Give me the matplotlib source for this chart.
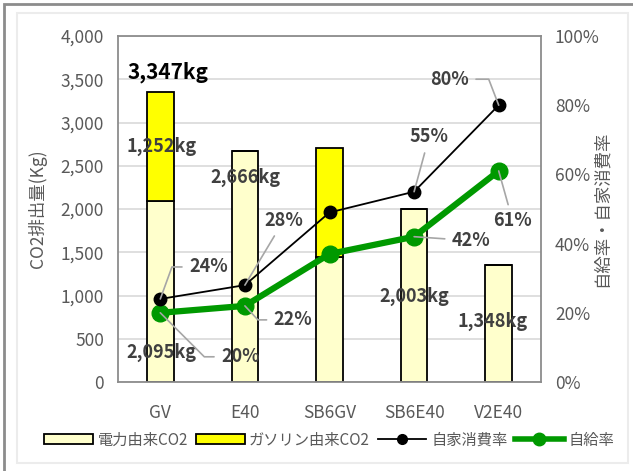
import matplotlib.pyplot as plt
from matplotlib.patches import Rectangle
from matplotlib.lines import Line2D

plt.rcParams['font.family'] = ['Noto Sans CJK JP', 'DejaVu Sans']

# data
categories = ['GV', 'E40', 'SB6GV', 'SB6E40', 'V2E40']
co2_power = [2095, 2666, 1450, 2003, 1348]      # 電力由来CO2 (kg)
co2_gasoline = [1252, 0, 1250, 0, 0]           # ガソリン由来CO2 (kg)
self_consumption = [24, 28, 49, 55, 80]        # 自家消費率 (%)
self_sufficiency = [20, 22, 37, 42, 61]        # 自給率 (%)

fig = plt.figure(figsize=(6.33, 4.71), dpi=100)
fig.patch.set_facecolor('white')
ax = fig.add_axes([118 / 633, 1 - 382 / 471, 423 / 633, 346 / 471])

# outer frame + inner chart area border
fig.add_artist(Rectangle((4 / 633, -0.1), 1.2, 1.1 - 4 / 471, transform=fig.transFigure,
                         fill=False, edgecolor='#8c8c8c', linewidth=2))
fig.add_artist(Rectangle((17 / 633, 8 / 471), 611 / 633, 450 / 471, transform=fig.transFigure,
                         fill=False, edgecolor='#ececec', linewidth=1.5))

x = range(len(categories))
bw = 0.315
ax.bar(x, co2_power, bw, color='#ffffcc', edgecolor='black', linewidth=1.3, zorder=2)
ax.bar(x, co2_gasoline, bw, bottom=co2_power, color='#ffff00', edgecolor='black',
       linewidth=1.3, zorder=2)

ax.set_xlim(-0.5, len(categories) - 0.5)
ax.set_ylim(0, 4000)
ax.set_yticks(range(0, 4001, 500))
ax.set_yticklabels([f'{v:,}' for v in range(0, 4001, 500)])
ax.set_xticks(list(x))
ax.set_xticklabels(categories)
ax.grid(axis='y', color='#d9d9d9', linewidth=1.2, zorder=0)
ax.set_axisbelow(True)
for s in ax.spines.values():
    s.set_edgecolor('#8c8c8c')
    s.set_linewidth(1.3)
ax.tick_params(length=0, labelsize=12.5, colors='#595959', pad=10)
ax.tick_params(axis='x', pad=16)
ax.set_ylabel('CO2排出量(Kg)', fontsize=12.5, color='#595959', labelpad=10)

ax2 = ax.twinx()
ax2.set_ylim(0, 100)
ax2.set_yticks(range(0, 101, 20))
ax2.set_yticklabels([f'{v}%' for v in range(0, 101, 20)])
ax2.tick_params(length=0, labelsize=12.5, colors='#595959', pad=10)
for s in ax2.spines.values():
    s.set_visible(False)
ax2.set_ylabel('自給率・自家消費率', fontsize=12.5, color='#595959', rotation=90,
               labelpad=10, va='bottom')
ax2.yaxis.set_label_coords(1.165, 0.5)

ax2.plot(x, self_consumption, color='black', linewidth=1.3, marker='o', markersize=9, zorder=4)
ax2.plot(x, self_sufficiency, color='#009900', linewidth=4.5, marker='o', markersize=12, zorder=3)

# kg labels (text position offsets in pixels)
totals = [p + g for p, g in zip(co2_power, co2_gasoline)]
ax.annotate(f'{totals[0]:,}kg', (0, totals[0]), xytext=(8, 20), textcoords='offset pixels',
            ha='center', va='center', fontsize=15, fontweight='bold', color='black')
ax.annotate(f'{co2_gasoline[0]:,}kg', (0, co2_power[0] + co2_gasoline[0] / 2), xytext=(1, 0),
            textcoords='offset pixels', ha='center', va='center', fontsize=13,
            fontweight='bold', color='#404040')
kg_offsets = {0: (1, -152), 1: (0, -26), 3: (0, -88), 4: (-6, -56)}
for i, (dx, dy) in kg_offsets.items():
    ax.annotate(f'{co2_power[i]:,}kg', (i, co2_power[i]), xytext=(dx, dy),
                textcoords='offset pixels', ha='center', va='center', fontsize=13,
                fontweight='bold', color='#404040')

# percent labels with leader lines: (dx, dy, attach side, slope at point or None)
sc_labels = {0: (48, 32, 0, 70), 1: (39, 65, 0.3, None), 3: (15, 55, 0.5, None),
             4: (-49, 26, 1, 111)}
ss_labels = {0: (80, -44, 0, -45), 1: (48, -14, 0, -47), 3: (57, -4, 0, None),
             4: (14, -50, 0.5, None)}
for series, labels in ((self_consumption, sc_labels), (self_sufficiency, ss_labels)):
    for i, (dx, dy, side, slope) in labels.items():
        lead = dict(arrowstyle='-', color='#a6a6a6', linewidth=1.2, shrinkA=3, shrinkB=0)
        if slope is not None:
            lead['relpos'] = (side, 0.5)
            lead['connectionstyle'] = f'angle,angleA=0,angleB={slope},rad=0'
        ax2.annotate(f'{series[i]}%', (i, series[i]), xytext=(dx, dy),
                     textcoords='offset pixels', ha='center', va='center', fontsize=13,
                     fontweight='bold', color='#404040', arrowprops=lead, zorder=5)

handles = [Rectangle((0, 0), 1, 1, facecolor='#ffffcc', edgecolor='black', linewidth=1.3),
           Rectangle((0, 0), 1, 1, facecolor='#ffff00', edgecolor='black', linewidth=1.3),
           Line2D([], [], color='black', linewidth=1.3, marker='o', markersize=7),
           Line2D([], [], color='#009900', linewidth=4, marker='o', markersize=9)]
fig.legend(handles, ['電力由来CO2', 'ガソリン由来CO2', '自家消費率', '自給率'],
           loc='center', bbox_to_anchor=(0.52, 1 - 440 / 471), ncol=4, frameon=False,
           fontsize=11, labelcolor='#595959', handlelength=3.2, handleheight=0.6,
           handletextpad=0.3, columnspacing=0.5)

fig.savefig('out.png', dpi=100)
